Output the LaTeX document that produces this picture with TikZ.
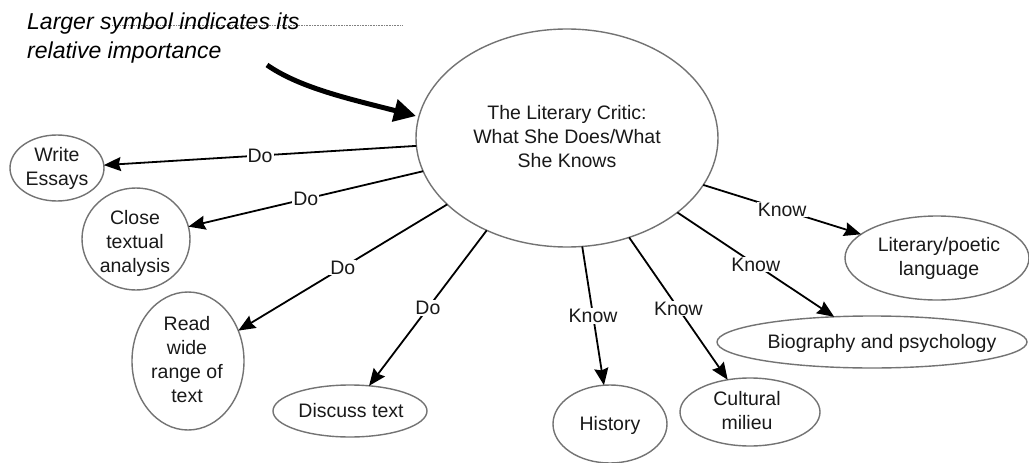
\documentclass[tikz,border=0pt]{standalone}
\usepackage{fontspec}
\setmainfont{Liberation Sans}
\usetikzlibrary{shapes.geometric,arrows.meta}
\begin{document}
\begin{tikzpicture}[x=1pt,y=-1pt,
  bub/.style={ellipse,draw=black!55,line width=1.4pt,inner sep=0pt,outer sep=0pt},
  txt/.style={font=\fontsize{19.5}{24}\selectfont,align=center,inner sep=0pt,text=black!90},
  rel/.style={line width=1.8pt,-{Stealth[length=17pt,width=14pt,inset=2pt]}},
  tag/.style={font=\fontsize{19.5}{24}\selectfont,fill=white,inner sep=1pt,pos=0.5,text=black!90},
  note/.style={font=\fontsize{23}{28}\selectfont\itshape,inner sep=0pt,anchor=base west}
]
\fill[white] (0,0) rectangle (1029,463);
\useasboundingbox (0,0) rectangle (1029,463);

% note
\coordinate (d1) at (112,25);
\coordinate (d2) at (402,25);
\draw[black!50,line width=0.6pt,densely dotted] (d1) -- (d2);
\node[note] (n1) at (27,30) {Larger symbol indicates its};
\node[note] (n2) at (27,58) {relative importance};

% bubbles
\node[bub,minimum width=302pt,minimum height=218pt] (c) at (567,138) {};
\node[txt] (ct) at (567,137) {The Literary Critic:\\What She Does/What\\She Knows};

\node[bub,minimum width=94pt,minimum height=66pt] (we) at (57,168) {};
\node[txt] (wet) at (57,168.5) {Write\\Essays};

\node[bub,minimum width=108pt,minimum height=102pt] (cl) at (136,239) {};
\node[txt] (clt) at (135,243) {Close\\textual\\analysis};

\node[bub,minimum width=112pt,minimum height=138pt] (rw) at (188,361) {};
\node[txt] (rwt) at (187,360) {Read\\wide\\range of\\text};

\node[bub,minimum width=154pt,minimum height=52pt] (dt) at (350,411) {};
\node[txt] (dtt) at (351,411) {Discuss text};

\node[bub,minimum width=114pt,minimum height=78pt] (hi) at (610,424) {};
\node[txt] (hit) at (610,425) {History};

\node[bub,minimum width=140pt,minimum height=68pt] (cm) at (750,412) {};
\node[txt] (cmt) at (747,411) {Cultural\\milieu};

\node[bub,minimum width=310pt,minimum height=52pt] (bp) at (872,342) {};
\node[txt] (bpt) at (882,343) {Biography and psychology};

\node[bub,minimum width=184pt,minimum height=84pt] (lp) at (937,258) {};
\node[txt] (lpt) at (939,258) {Literary/poetic\\language};

% thick arrow
\coordinate (a0) at (267,65);
\draw[line width=5pt,-{Triangle[length=22pt,width=22pt]}] (a0) .. controls (300,88) and (350,99) .. (c.west |- 0,116);

% connectors
\draw[rel] (c.183.4) -- node[tag] (l1) {Do} (we);
\draw[rel] (c.193.3) -- node[tag] (l2) {Do} (cl);
\draw[rel] (c.209) -- node[tag] (l3) {Do} (rw);
\draw[rel] (c.229) -- node[tag] (l4) {Do} (dt);
\draw[rel] (c.278.5) -- node[tag] (l5) {Know} (hi);
\draw[rel] (c.302.2) -- node[tag] (l6) {Know} (cm);
\draw[rel] (c.326.1) -- node[tag] (l7) {Know} (bp);
\draw[rel] (c.341.7) -- node[tag] (l8) {Know} (lp);
\end{tikzpicture}
\end{document}
